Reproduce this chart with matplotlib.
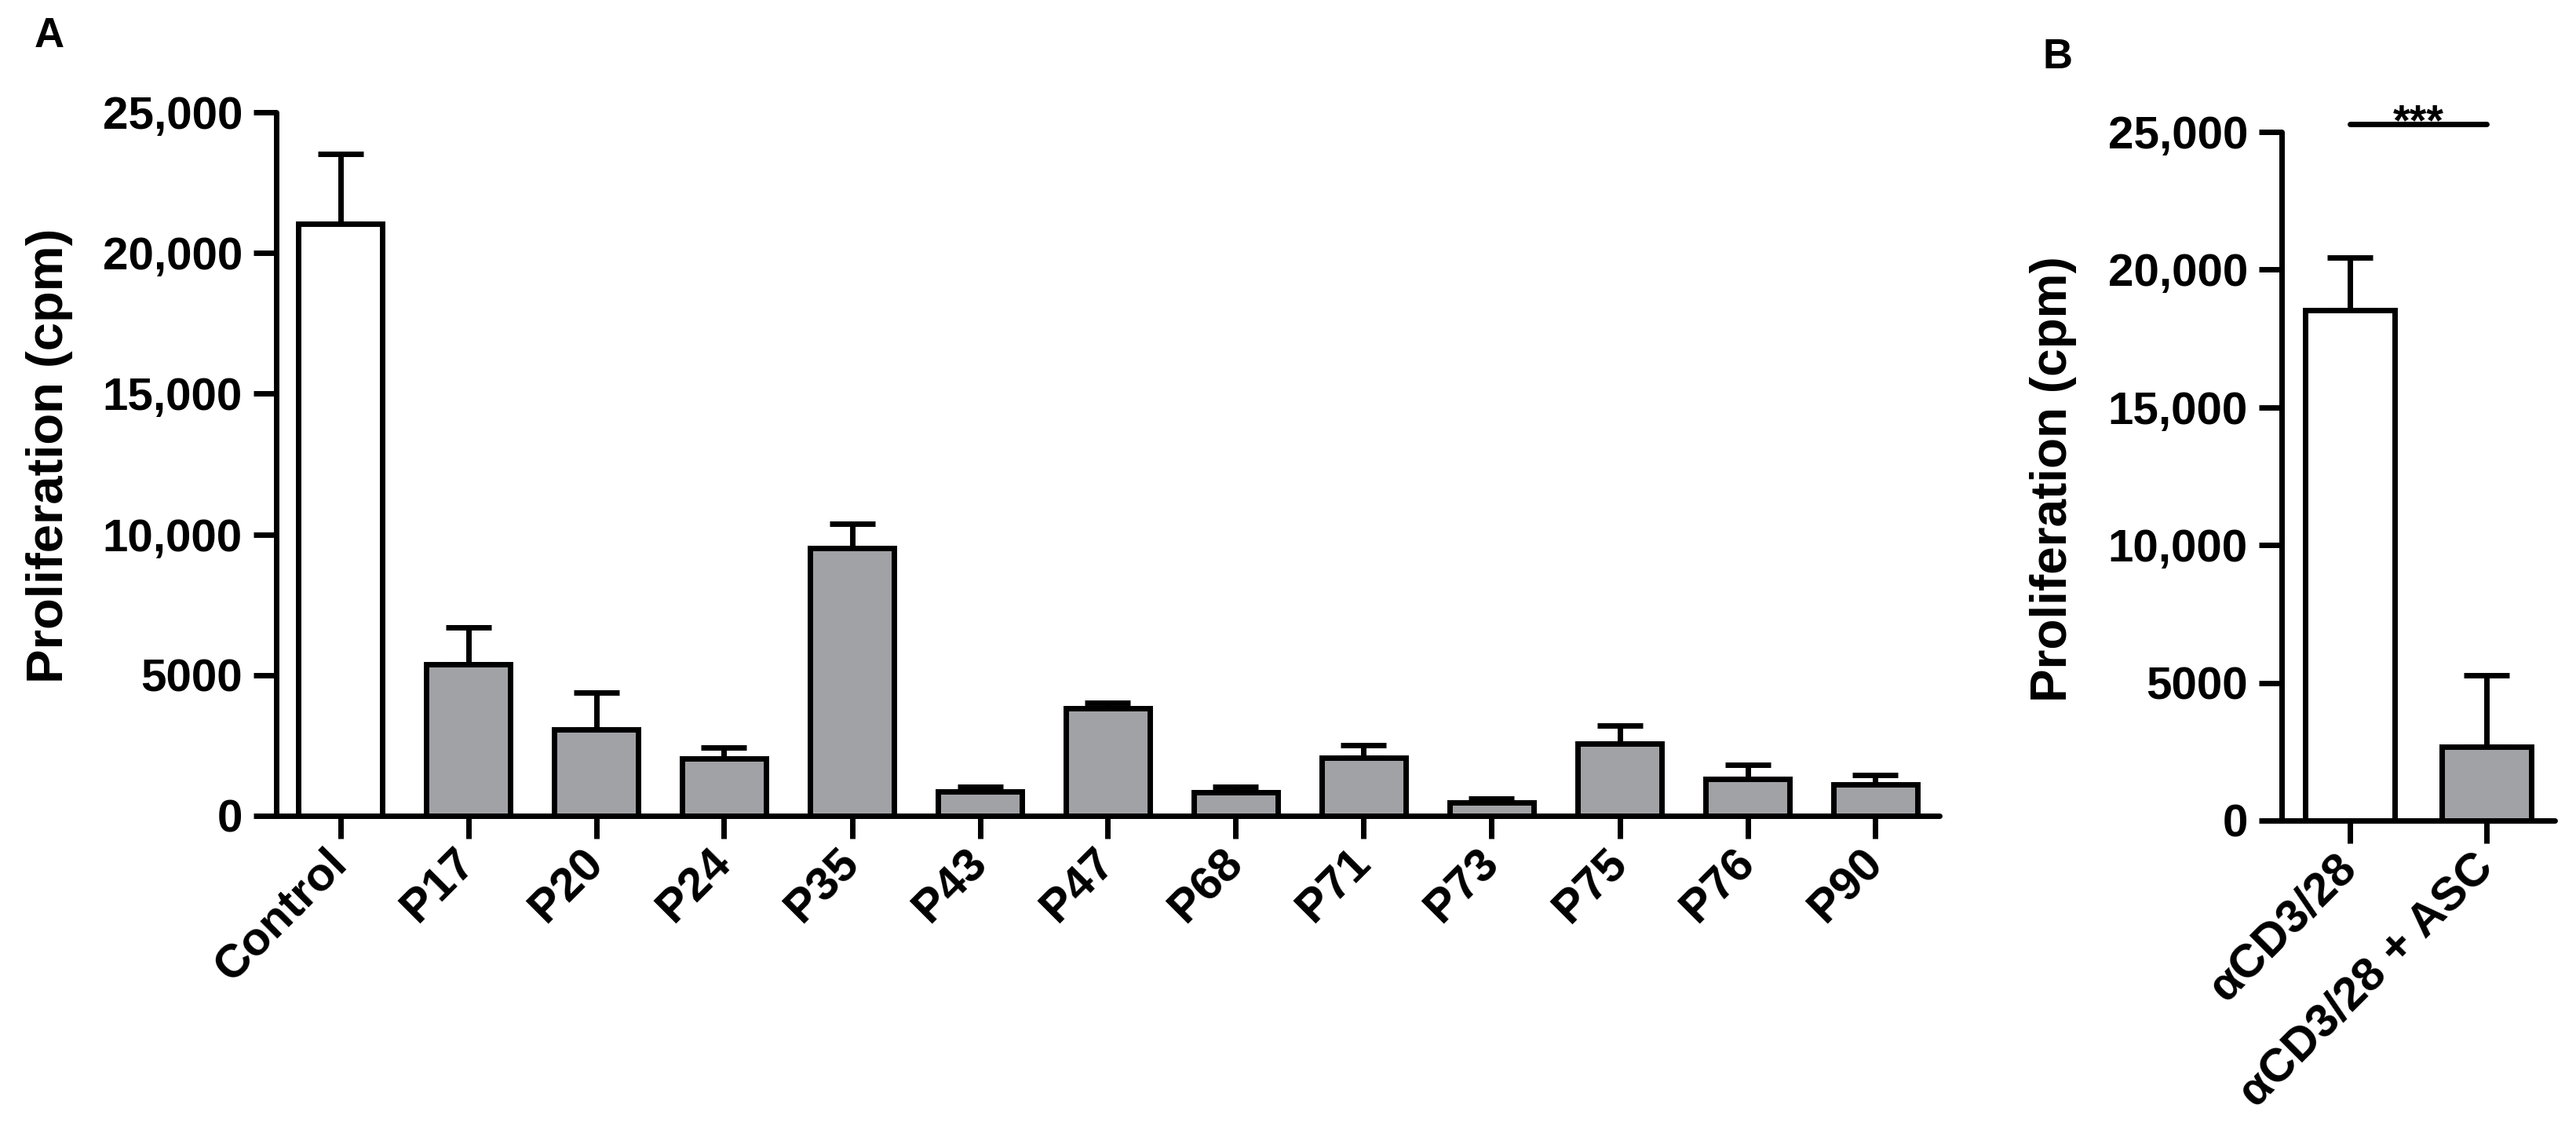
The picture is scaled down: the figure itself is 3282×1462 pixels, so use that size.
import numpy as np
import matplotlib
matplotlib.use("Agg")
import matplotlib.pyplot as plt
from matplotlib.ticker import FixedLocator

plt.rcParams['font.family'] = ['Liberation Sans', 'DejaVu Sans']
plt.rcParams['font.weight'] = 'bold'

# panel A data (mean, upper end of SEM bar)
groups_a = ["Control", "P17", "P20", "P24", "P35", "P43", "P47",
            "P68", "P71", "P73", "P75", "P76", "P90"]
mean_a = [21040, 5380, 3080, 2050, 9510, 870, 3830, 850, 2060, 470, 2570, 1310, 1120]
top_a = [23520, 6710, 4370, 2420, 10370, 1040, 4010, 1040, 2510, 600, 3200, 1820, 1460]
fill_a = ["white"] + ["#a1a2a6"] * 12

# panel B data
groups_b = ["\u03b1CD3/28", "\u03b1CD3/28 + ASC"]
mean_b = [18530, 2680]
top_b = [20440, 5270]
fill_b = ["white", "#a1a2a6"]
sig_b = "***"
sig_level = 25285

yticks = [0, 5000, 10000, 15000, 20000, 25000]
ytick_labels = ["0", "5000", "10,000", "15,000", "20,000", "25,000"]

W, H = 3282, 1462
dpi = 200
fig = plt.figure(figsize=(W / dpi, H / dpi), dpi=dpi)

lw = 2.5
tick_fs = 21


def style_axes(ax, n):
    for s in ["top", "right"]:
        ax.spines[s].set_visible(False)
    for s in ["left", "bottom"]:
        ax.spines[s].set_linewidth(lw)
        ax.spines[s].set_capstyle("round")
    ax.set_ylim(0, 25000)
    ax.set_xlim(-0.5, n - 0.5)
    ax.yaxis.set_major_locator(FixedLocator(yticks))
    ax.set_yticklabels(ytick_labels, fontsize=tick_fs, fontweight="bold")
    ax.tick_params(axis="both", direction="out", length=10.5, width=lw, pad=5)
    ax.tick_params(axis="x", pad=8)


def draw_bars(ax, labels, means, tops, fills):
    x = np.arange(len(labels))
    err = np.array(tops) - np.array(means)
    yerr = np.vstack([np.zeros(len(labels)), err])
    ax.bar(x, means, width=0.655, color=fills, edgecolor="black", linewidth=lw,
           zorder=2)
    ax.errorbar(x, means, yerr=yerr, fmt="none", ecolor="black", elinewidth=lw,
                capsize=10.5, capthick=lw, zorder=1)
    ax.set_xticks(x)
    ax.set_xticklabels(labels, rotation=45, ha="right", va="center",
                       rotation_mode="anchor", fontsize=21.5, fontweight="bold")


# panel A
axA = fig.add_axes([352 / W, 1 - 1039 / H, (2471 - 352) / W, 896 / H])
draw_bars(axA, groups_a, mean_a, top_a, fill_a)
style_axes(axA, len(groups_a))

# panel B
axB = fig.add_axes([2907 / W, 1 - 1045 / H, (3255 - 2907) / W, 877 / H])
draw_bars(axB, groups_b, mean_b, top_b, fill_b)
style_axes(axB, len(groups_b))

# significance bar
axB.plot([0, 1], [sig_level, sig_level], color="black", lw=lw,
         solid_capstyle="round", clip_on=False)
axB.text(0.5, 24900, sig_b, ha="center", va="baseline", fontsize=20,
         fontweight="bold", clip_on=False)

# y labels
fig.text(63 / W, 1 - 580 / H, "Proliferation (cpm)", rotation=90,
         ha="center", va="center", fontsize=23.5, fontweight="bold")
fig.text(2616 / W, 1 - 610 / H, "Proliferation (cpm)", rotation=90,
         ha="center", va="center", fontsize=23, fontweight="bold")

# panel letters
fig.text(63 / W, 1 - 46 / H, "A", ha="center", va="center", fontsize=19,
         fontweight="bold")
fig.text(2622 / W, 1 - 73 / H, "B", ha="center", va="center", fontsize=19,
         fontweight="bold")

fig.savefig("out.png", dpi=dpi)
